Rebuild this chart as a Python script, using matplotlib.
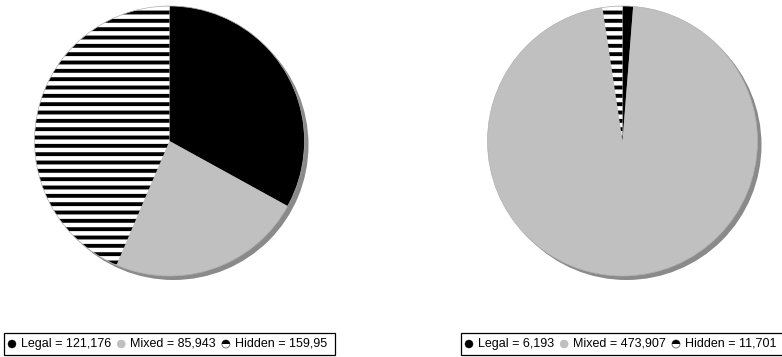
import matplotlib
matplotlib.use("Agg")
import matplotlib.pyplot as plt
from matplotlib.patches import Circle, Rectangle, Wedge

# Data
categories = ["Legal", "Mixed", "Hidden"]
left_values = [121176, 85943, 159950]
right_values = [6193, 473907, 11701]

slice_colors = ["#000000", "#c0c0c0", "#ffffff"]
slice_hatches = [None, None, "--"]

plt.rcParams["hatch.linewidth"] = 2.8
plt.rcParams["hatch.color"] = "black"
plt.rcParams["font.family"] = ["Liberation Sans", "DejaVu Sans"]

W, H = 782, 357
fig = plt.figure(figsize=(W / 100, H / 100), dpi=100)
ax = fig.add_axes([0, 0, 1, 1])
ax.set_xlim(0, W)
ax.set_ylim(0, H)
ax.set_aspect("equal")
ax.axis("off")

radius = 135
centers = [(169.5, H - 141), (622.5, H - 141)]


def draw_pie(values, center):
    cx, cy = center
    ax.add_patch(Circle((cx + 4, cy - 4), radius, facecolor="#8a8a8a",
                        edgecolor="none", zorder=1))
    wedges, _ = ax.pie(values, colors=slice_colors, startangle=90,
                       counterclock=False, center=center, radius=radius,
                       frame=True, wedgeprops=dict(linewidth=0))
    for w, h in zip(wedges, slice_hatches):
        w.set_zorder(2)
        if h:
            w.set_hatch(h)
            w.set_edgecolor("black")
            w.set_linewidth(0)
    ax.add_patch(Circle(center, radius, facecolor="none", edgecolor="#b0b0b0",
                        linewidth=0.5, zorder=3))


for vals, c in zip([left_values, right_values], centers):
    draw_pie(vals, c)

ax.set_xlim(0, W)
ax.set_ylim(0, H)
ax.axis("off")

fig.canvas.draw()
renderer = fig.canvas.get_renderer()

box_w, box_y0, box_y1 = 331, H - 355, H - 333
box_xs = [4, 461]
mid_y = (box_y0 + box_y1) / 2
font_size = 9.0


def legend_marker(x, y, idx):
    r = 4
    if idx == 0:
        ax.add_patch(Circle((x, y), r, facecolor="black", edgecolor="black",
                            linewidth=0.3, zorder=5))
    elif idx == 1:
        ax.add_patch(Circle((x, y), r, facecolor="#c0c0c0", edgecolor="#b0b0b0",
                            linewidth=0.3, zorder=5))
    else:
        ax.add_patch(Circle((x, y), r, facecolor="white", edgecolor="#606060",
                            linewidth=0.6, zorder=5))
        ax.add_patch(Wedge((x, y), r, 0, 180, facecolor="black",
                           edgecolor="none", zorder=6))


def to_px(x):
    return ax.transData.transform((x, 0))[0]


for bx, vals in zip(box_xs, [left_values, right_values]):
    frame = Rectangle((bx, box_y0), box_w, box_y1 - box_y0, facecolor="white",
                      edgecolor="black", linewidth=0.9, zorder=4)
    ax.add_patch(frame)
    right_px = to_px(bx + box_w - 2)
    fig_right_px = fig.bbox.width - 1
    limit_px = min(right_px, fig_right_px)
    cursor = bx + 8
    for i, (name, v) in enumerate(zip(categories, vals)):
        legend_marker(cursor, mid_y, i)
        label = f"{name} = {v:,}"
        t = ax.text(cursor + 9, mid_y, label, fontsize=font_size,
                    ha="left", va="center", color="black", zorder=7)
        ext = t.get_window_extent(renderer)
        # a label running past the box edge loses its trailing characters
        while ext.x1 > limit_px and len(label) > 1:
            label = label[:-1]
            t.set_text(label)
            ext = t.get_window_extent(renderer)
        cursor = cursor + 9 + ext.width + 10

fig.savefig("out.png", dpi=100)
